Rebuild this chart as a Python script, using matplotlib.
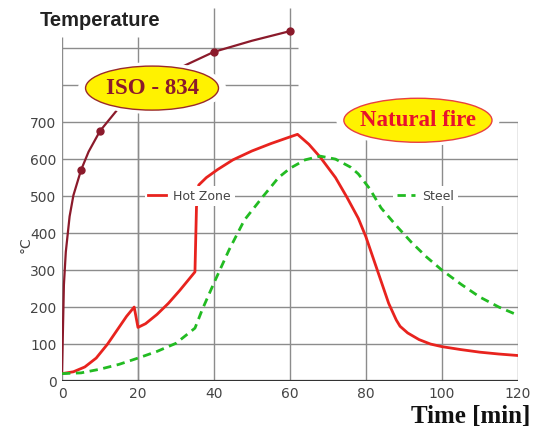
import matplotlib.pyplot as plt
from matplotlib.patches import Ellipse

# ISO-834 standard fire curve
iso_t = [0, 0.5, 1, 2, 3, 5, 7, 10, 15, 20, 30, 40, 50, 60]
iso_T = [20, 260, 349, 445, 502, 570, 620, 676, 739, 781, 842, 890, 920, 946]
iso_mark_t = [5, 10, 40, 60]
iso_mark_T = [570, 676, 890, 946]

# natural fire - hot zone gas temperature
hot_t = [0, 3, 6, 9, 12, 15, 17, 19, 20, 22, 25, 28, 31, 35, 35.4, 36, 38, 41, 45,
         50, 55, 60, 62, 65, 68, 72, 75, 78, 80, 83, 86, 88, 89, 91, 94, 97, 100,
         105, 110, 115, 120]
hot_T = [20, 25, 38, 62, 100, 145, 175, 200, 145, 155, 180, 210, 245, 295, 470, 530, 550, 572, 598,
         622, 642, 660, 667, 640, 605, 550, 497, 440, 390, 300, 210, 165, 148, 130, 112, 100, 93,
         85, 78, 73, 69]

# steel temperature
steel_t = [0, 5, 10, 15, 20, 25, 30, 35, 37, 40, 44, 48, 53, 57, 60, 64, 68, 72, 76, 78,
           81, 84, 88, 92, 96, 100, 105, 110, 115, 120]
steel_T = [20, 22, 32, 45, 62, 80, 102, 143, 195, 265, 355, 435, 500, 550, 575, 598, 608, 600, 578, 560,
           520, 468, 420, 375, 335, 300, 262, 227, 200, 178]

x_ticks = [0, 20, 40, 60, 80, 100, 120]
y_ticks = [0, 100, 200, 300, 400, 500, 600, 700]

grid_c = '#8c8c8c'
txt_c = '#444444'

fig = plt.figure(figsize=(5.42, 4.32), dpi=100)
ax = fig.add_axes([0.1144, 0.118, 0.841, 0.863])
ax.set_xlim(0, 120)
ax.set_ylim(0, 1008)
for s in ax.spines.values():
    s.set_visible(False)

# grid of the main chart
ax.hlines(y_ticks[1:], 0, 120, color=grid_c, lw=1, zorder=1)
ax.vlines(x_ticks[1:], 0, 700, color=grid_c, lw=1, zorder=1)
# extended grid of the ISO part
ax.vlines([0, 20], 0, 930, color=grid_c, lw=1, zorder=1)
ax.vlines([40, 60], 700, 1008, color=grid_c, lw=1, zorder=1)
ax.hlines([800, 900], 0, 62, color=grid_c, lw=1, zorder=1)
ax.hlines(0, 0, 120, color='#333333', lw=1.6, zorder=2)

ax.set_xticks(x_ticks)
ax.set_xticklabels([str(v) for v in x_ticks])
ax.set_yticks(y_ticks)
ax.set_yticklabels([str(v) for v in y_ticks])
ax.tick_params(length=0, labelsize=10, colors=txt_c, pad=4)

ax.plot(iso_t, iso_T, color='#8b1a2b', lw=1.6, zorder=3)
ax.plot(iso_mark_t, iso_mark_T, 'o', color='#8b1a2b', ms=5, zorder=3)
hot, = ax.plot(hot_t, hot_T, color='#e8231e', lw=2, zorder=4, label='Hot Zone')
steel, = ax.plot(steel_t, steel_T, color='#22bb22', lw=2, ls=(0, (3, 2)), zorder=4, label='Steel')

leg_kw = dict(fontsize=9, handlelength=1.4, handletextpad=0.6, borderpad=0.3,
              frameon=True, fancybox=False, edgecolor='none', facecolor='white',
              framealpha=1, labelcolor=txt_c)
leg1 = ax.legend(handles=[hot], loc='center', bbox_to_anchor=(0.35, 0.546),
                 bbox_transform=fig.transFigure, **leg_kw)
ax.add_artist(leg1)
leg1.set_zorder(5)
leg2 = ax.legend(handles=[steel], loc='center', bbox_to_anchor=(0.785, 0.546),
                 bbox_transform=fig.transFigure, **leg_kw)
leg2.set_zorder(5)

# label bubbles
for cx, cy, w, label, tcol, ecol in [(23.7, 792, 35, 'ISO - 834', '#8b1a2b', '#9a2a2a'),
                                     (93.7, 705, 39, 'Natural fire', '#e8112d', '#e84040')]:
    ax.add_patch(Ellipse((cx, cy), w + 4, 140, facecolor='white', edgecolor='none', zorder=6))
    ax.add_patch(Ellipse((cx, cy), w, 119, facecolor='#fff200', edgecolor=ecol, lw=1, zorder=7))
    ax.text(cx, cy, label, ha='center', va='center', fontsize=16.5, fontweight='bold',
            family='Liberation Serif', color=tcol, zorder=8)

fig.text(0.074, 0.953, 'Temperature', fontsize=14.5, fontweight='bold',
         family='Liberation Sans', color='#222222', va='center')
fig.text(0.047, 0.433, '°C', rotation=90, fontsize=10, color=txt_c, ha='center', va='center')
fig.text(0.978, 0.036, 'Time [min]', fontsize=18, fontweight='bold',
         family='Liberation Serif', color='#111111', ha='right', va='center')

fig.savefig('out.png', dpi=100)
